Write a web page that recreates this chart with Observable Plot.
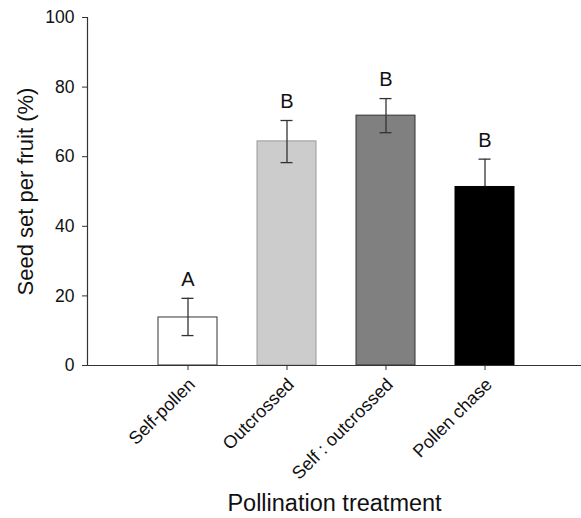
<!DOCTYPE html>
<html>
<head>
<meta charset="utf-8">
<script src="https://cdn.jsdelivr.net/npm/d3@7"></script>
<script src="https://cdn.jsdelivr.net/npm/@observablehq/plot@0.6"></script>
<style>
  html, body { margin: 0; padding: 0; background: #fff; }
  #chart svg { display: block; }
</style>
</head>
<body>
<div id="chart"></div>
<script>
const categories = ["Self-pollen", "Outcrossed", "Self : outcrossed", "Pollen chase"];
const means = [13.8, 64.4, 71.8, 51.3];
const upper = [19.3, 70.4, 76.7, 59.3];
const lower = [8.6, 58.3, 66.9, 43.3];
const letters = ["A", "B", "B", "B"];
const fills = ["#ffffff", "#cccccc", "#808080", "#000000"];
const strokes = ["#333333", "#999999", "#333333", "#000000"];
const yTicks = [0, 20, 40, 60, 80, 100];

const data = categories.map((c, i) => ({
  cat: c, mean: means[i], hi: upper[i], lo: lower[i],
  letter: letters[i], fill: fills[i], stroke: strokes[i]
}));
const lowStroke = d => d.fill === "#000000" ? "#000" : "#333";

const chart = Plot.plot({
  width: 581,
  height: 518,
  marginLeft: 87,
  marginRight: 0,
  marginTop: 17,
  marginBottom: 153,
  style: { fontFamily: "'Liberation Sans', Arial, sans-serif", color: "#111", background: "#fff" },
  x: { type: "band", domain: categories, range: [87, 585], paddingInner: 0.4, paddingOuter: 0.7 },
  y: { domain: [0, 100] },
  marks: [
    Plot.barY(data, { x: "cat", y: "mean", fill: "fill", stroke: "stroke", strokeWidth: 1 }),
    Plot.ruleX(data, { x: "cat", y1: "mean", y2: "hi", stroke: "#333", strokeWidth: 1.3 }),
    Plot.ruleX(data, { x: "cat", y1: "lo", y2: "mean", stroke: lowStroke, strokeWidth: 1.3 }),
    Plot.tickY(data, { x: "cat", y: "hi", stroke: "#333", strokeWidth: 1.3, insetLeft: 23.5, insetRight: 23.5 }),
    Plot.tickY(data, { x: "cat", y: "lo", stroke: lowStroke, strokeWidth: 1.3, insetLeft: 23.5, insetRight: 23.5 }),
    Plot.text(data, { x: "cat", y: "hi", text: "letter", dy: -19, fontSize: 20, fill: "#111" }),
    Plot.ruleY([0], { stroke: "#333", strokeWidth: 1.2 }),
    Plot.frame({ anchor: "left", stroke: "#333", strokeWidth: 1.2 }),
    Plot.axisY({
      ticks: yTicks, tickSize: 5, tickPadding: 8, fontSize: 17.5, stroke: "#333",
      label: "Seed set per fruit (%)", labelAnchor: "center", labelArrow: "none", labelOffset: 70
    }),
    Plot.axisX({
      tickSize: 5, tickFormat: () => "", stroke: "#333", label: null
    }),
    Plot.axisX({
      tickSize: 0, tickPadding: 16, dx: 4, tickRotate: -45, fontSize: 18,
      label: "Pollination treatment", labelAnchor: "center", labelArrow: "none", labelOffset: 145
    })
  ]
});

chart.querySelectorAll("[aria-label='y-axis label'], [aria-label='y-axis label'] text").forEach(g => {
  g.setAttribute("font-size", "22");
});
chart.querySelectorAll("[aria-label='x-axis label'], [aria-label='x-axis label'] text").forEach(g => {
  g.setAttribute("font-size", "23.5");
});
document.getElementById("chart").appendChild(chart);
</script>
</body>
</html>
